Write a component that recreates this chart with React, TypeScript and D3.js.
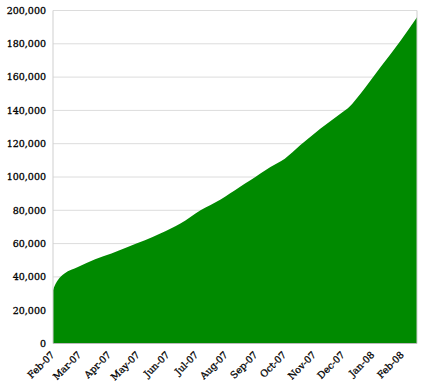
import React from "react";
import * as d3 from "d3";

const dates: string[] = [
  "2007-02-01", "2007-02-03", "2007-02-06", "2007-02-13", "2007-02-27",
  "2007-03-17", "2007-04-03", "2007-04-20", "2007-05-08", "2007-05-24",
  "2007-06-14", "2007-07-05", "2007-07-26", "2007-08-15", "2007-08-26",
  "2007-09-16", "2007-10-01", "2007-10-17", "2007-11-07", "2007-11-28",
  "2007-12-08", "2007-12-19", "2008-01-09", "2008-01-30", "2008-02-16",
];
const values: number[] = [
  32000, 35000, 38000, 42000, 46000,
  50600, 54000, 58000, 62000, 66000,
  72000, 80000, 86500, 94000, 98000,
  106000, 111000, 119000, 129000, 138000,
  142500, 150000, 166000, 182000, 196000,
];
const yTicks: number[] = [0, 20000, 40000, 60000, 80000, 100000, 120000, 140000, 160000, 180000, 200000];
const monthTicks: string[] = [
  "2007-02-01", "2007-03-01", "2007-04-01", "2007-05-01", "2007-06-01", "2007-07-01",
  "2007-08-01", "2007-09-01", "2007-10-01", "2007-11-01", "2007-12-01", "2008-01-01", "2008-02-01",
];

const W = 425, H = 390;
const left = 53, right = 417, top = 10.5, bottom = 343.5;

export default function App() {
  const parse = d3.utcParse("%Y-%m-%d");
  const data = dates.map((d, i) => ({ date: parse(d) as Date, value: values[i] }));
  const x = d3.scaleUtc().domain([data[0].date, data[data.length - 1].date]).range([left, right]);
  const y = d3.scaleLinear().domain([0, 200000]).range([bottom, top]);
  const area = d3.area<{ date: Date; value: number }>()
    .x((d) => x(d.date))
    .y0(y(0))
    .y1((d) => y(d.value))
    .curve(d3.curveMonotoneX);
  const fmt = d3.format(",");
  const tfmt = d3.utcFormat("%b-%y");
  const font = "'DejaVu Serif', serif";
  return (
    <svg width={W} height={H} style={{ position: "absolute", left: 0, top: 0, background: "#fff" }}>
      {yTicks.map((t) => (
        <g key={t}>
          <line x1={left} x2={right} y1={y(t)} y2={y(t)} stroke="#dcdcdc" strokeWidth={1} />
          <text x={46} y={y(t)} dy="0.35em" textAnchor="end" fontFamily={font} fontSize={9.5}
            fill="#000" stroke="#000" strokeWidth={0.3}>
            {fmt(t)}
          </text>
        </g>
      ))}
      <path d={area(data) || ""} fill="#008a00" />
      <line x1={left} x2={left} y1={top} y2={bottom} stroke="#cfcfcf" />
      <line x1={right} x2={right} y1={top} y2={bottom} stroke="#cfcfcf" />
      <line x1={left} x2={right} y1={bottom} y2={bottom} stroke="#bbb" />
      {monthTicks.map((m) => {
        const d = parse(m) as Date;
        const px = x(d) + 2;
        return (
          <text key={m} transform={`translate(${px},${bottom + 12}) rotate(-45)`} textAnchor="end"
            fontFamily={font} fontSize={9.5} fill="#000" stroke="#000" strokeWidth={0.3}>
            {tfmt(d)}
          </text>
        );
      })}
    </svg>
  );
}
